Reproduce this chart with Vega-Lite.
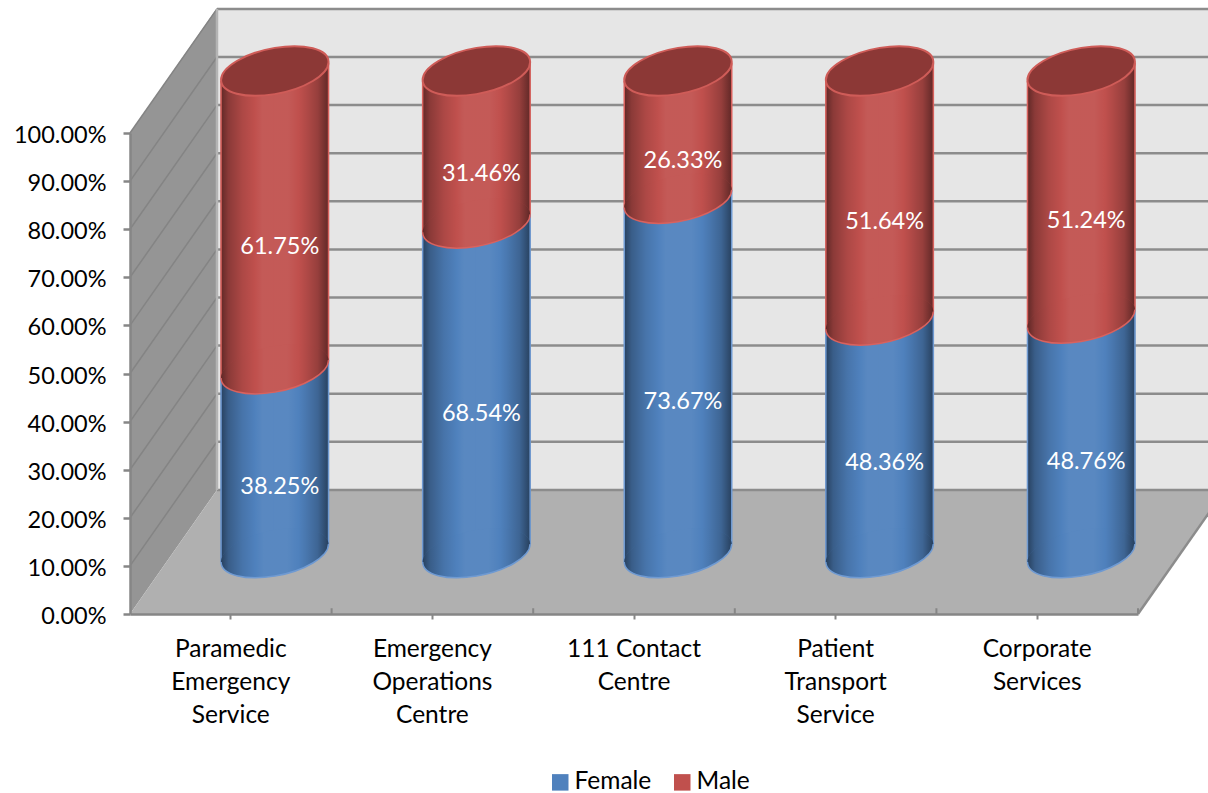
{
"$schema":"https://vega.github.io/schema/vega-lite/v6.json",
"width":1008,"height":481,
"autosize":{"type":"none"},
"padding":{"left":130,"top":133,"right":70,"bottom":179},
"background":"#ffffff",
"config":{"view":{"stroke":null},"font":"Lato"},
"datasets":{
"floor":[{"x":0,"y":0,"y2":0},{"x":0.4315,"y":0.258,"y2":0},{"x":5,"y":0.258,"y2":0},{"x":5.4315,"y":0.258,"y2":0.258}],
"side":[{"x":0,"y":1,"y2":0},{"x":0.4315,"y":1.26,"y2":0.258}],
"gridlines":[
{"a":0,"b":0.258},{"a":0.1,"b":0.358},{"a":0.2,"b":0.458},{"a":0.3,"b":0.558},{"a":0.4,"b":0.658},{"a":0.5,"b":0.758},{"a":0.6,"b":0.858},{"a":0.7,"b":0.958},{"a":0.8,"b":1.058},{"a":0.9,"b":1.158},{"a":1,"b":1.258}
],
"shares":[
{"category":"Paramedic Emergency Service","series":"Female","share":0.3825},
{"category":"Paramedic Emergency Service","series":"Male","share":0.6175},
{"category":"Emergency Operations Centre","series":"Female","share":0.6854},
{"category":"Emergency Operations Centre","series":"Male","share":0.3146},
{"category":"111 Contact Centre","series":"Female","share":0.7367},
{"category":"111 Contact Centre","series":"Male","share":0.2633},
{"category":"Patient Transport Service","series":"Female","share":0.4836},
{"category":"Patient Transport Service","series":"Male","share":0.5164},
{"category":"Corporate Services","series":"Female","share":0.4876},
{"category":"Corporate Services","series":"Male","share":0.5124}
]},
"resolve":{"scale":{"x":"independent"},"axis":{"x":"independent"}},
"layer":[
{"layer":[
{"data":{"values":[{"w":1}]},"mark":{"type":"rect","color":"#e6e6e6"},
"encoding":{"x":{"datum":0.4315,"type":"quantitative","scale":{"domain":[0,5],"nice":false,"zero":false},"axis":null},"x2":{"datum":5.4315},
"y":{"datum":0.258,"type":"quantitative","scale":{"domain":[0,1],"nice":false},"axis":{"values":[0,0.1,0.2,0.3,0.4,0.5,0.6,0.7,0.8,0.9,1],"format":".2%","title":null,"grid":false,"zindex":1,"domainColor":"#868686","domainWidth":2.5,"tickColor":"#868686","tickWidth":2.5,"tickSize":7,"labelFontSize":23.5,"labelFont":"Lato","labelColor":"#000000","labelPadding":17,"labelOffset":2.5}},"y2":{"datum":1.26}}},
{"data":{"name":"side"},"mark":{"type":"area","color":"#959595"},"encoding":{"x":{"field":"x","type":"quantitative","axis":null},"y":{"field":"y","type":"quantitative","stack":null},"y2":{"field":"y2"}}},
{"data":{"name":"floor"},"mark":{"type":"area","color":"#b0b0b0"},"encoding":{"x":{"field":"x","type":"quantitative","axis":null},"y":{"field":"y","type":"quantitative","stack":null},"y2":{"field":"y2"}}},
{"data":{"name":"gridlines"},"mark":{"type":"rule","color":"#8c8c8c","strokeWidth":2.5},"encoding":{"x":{"datum":0.4315,"type":"quantitative","axis":null},"x2":{"datum":5.4315},"y":{"field":"b","type":"quantitative"}}},
{"data":{"name":"gridlines"},"transform":[{"filter":"datum.a>0"}],"mark":{"type":"rule","color":"#848484","strokeWidth":1.5},"encoding":{"x":{"datum":0,"type":"quantitative","axis":null},"x2":{"datum":0.4315},"y":{"field":"a","type":"quantitative"},"y2":{"field":"b"}}},
{"data":{"values":[{"w":1}]},"mark":{"type":"rule","color":"#b4b4b4","strokeWidth":2.5},"encoding":{"x":{"datum":0.4315,"type":"quantitative","axis":null},"y":{"datum":0.258,"type":"quantitative"},"y2":{"datum":1.258}}},
{"data":{"values":[{"w":1}]},"mark":{"type":"rule","color":"#8c8c8c","strokeWidth":2.5},"encoding":{"x":{"datum":5,"type":"quantitative","axis":null},"x2":{"datum":5.4315},"y":{"datum":0,"type":"quantitative"},"y2":{"datum":0.258}}}
]},
{"data":{"name":"shares"},
"encoding":{"x":{"field":"category","type":"nominal","sort":null,"scale":{"paddingInner":0,"paddingOuter":0},
"axis":{"title":null,"labelAngle":0,"labelFontSize":24.5,"labelFont":"Lato","labelColor":"#000000","labelPadding":18,"labelLineHeight":33,"domainColor":"#868686","domainWidth":2.5,"tickColor":"#868686","tickWidth":2,"tickSize":5,"tickBand":"center","zindex":1,"labelExpr":"datum.label=='111 Contact Centre'?['111 Contact','Centre']:split(datum.label,' ')"}}},
"layer":[
{"mark":{"type":"bar","width":55,"xOffset":17.5,"yOffset":-52,"y2Offset":-52},
"encoding":{"y":{"field":"share","type":"quantitative","stack":"zero"},
"order":{"field":"series","sort":"ascending"},
"color":{"field":"series","type":"nominal","scale":{"domain":["Female","Male"],"range":["#4f81bd","#c0504d"]},
"legend":{"title":null,"orient":"none","legendX":418,"legendY":637,"direction":"horizontal","symbolType":"square","symbolSize":272,"symbolStrokeWidth":0,"labelFontSize":24.5,"labelFont":"Lato","labelColor":"#000000","labelOffset":2,"columnPadding":18}}}},
{"mark":{"type":"bar","width":55,"xOffset":70.5,"yOffset":-70,"y2Offset":-70},
"encoding":{"y":{"field":"share","type":"quantitative","stack":"zero"},"order":{"field":"series","sort":"ascending"},"color":{"field":"series","type":"nominal"}}},
{"mark":{"type":"bar","width":54,"xOffset":17,"yOffset":-52,"y2Offset":-52,"color":{"gradient":"linear","x1":0,"x2":1,"y1":0,"y2":0,"stops":[{"offset":0,"color":"rgba(0,0,0,0.5)"},{"offset":0.14,"color":"rgba(0,0,0,0.28)"},{"offset":0.4,"color":"rgba(0,0,0,0.1)"},{"offset":0.64,"color":"rgba(0,0,0,0)"},{"offset":1,"color":"rgba(0,0,0,0)"}]}},
"encoding":{"y":{"field":"share","type":"quantitative","stack":"zero"},"order":{"field":"series","sort":"ascending"},"detail":{"field":"series"}}},
{"mark":{"type":"bar","width":54,"xOffset":71,"yOffset":-70,"y2Offset":-70,"color":{"gradient":"linear","x1":0,"x2":1,"y1":0,"y2":0,"stops":[{"offset":0,"color":"rgba(0,0,0,0)"},{"offset":0.44,"color":"rgba(0,0,0,0)"},{"offset":0.58,"color":"rgba(0,0,0,0.08)"},{"offset":0.8,"color":"rgba(0,0,0,0.22)"},{"offset":1,"color":"rgba(0,0,0,0.5)"}]}},
"encoding":{"y":{"field":"share","type":"quantitative","stack":"zero"},"order":{"field":"series","sort":"ascending"},"detail":{"field":"series"}}},
{"mark":{"type":"bar","width":44,"xOffset":46,"yOffset":-61,"y2Offset":-61,"color":{"gradient":"linear","x1":0,"x2":1,"y1":0,"y2":0,"stops":[{"offset":0,"color":"rgba(255,255,255,0)"},{"offset":0.18,"color":"rgba(255,255,255,0.06)"},{"offset":0.75,"color":"rgba(255,255,255,0.06)"},{"offset":1,"color":"rgba(255,255,255,0)"}]}},
"encoding":{"y":{"field":"share","type":"quantitative","stack":"zero"},"order":{"field":"series","sort":"ascending"},"detail":{"field":"series"}}},
{"transform":[{"filter":"datum.series=='Female'"}],"layer":[
{"mark":{"type":"rule","xOffset":-9.75,"yOffset":-52,"y2Offset":-52,"color":"#6f9ad2","strokeWidth":1.5},"encoding":{"y":{"field":"share","type":"quantitative"},"y2":{"datum":0}}},
{"mark":{"type":"rule","xOffset":97.75,"yOffset":-70,"y2Offset":-70,"color":"#6f9ad2","strokeWidth":1.5},"encoding":{"y":{"field":"share","type":"quantitative"},"y2":{"datum":0}}},
{"mark":{"type":"rule","xOffset":-9.75,"yOffset":-52,"y2Offset":-52,"color":"#d9625e","strokeWidth":1.5},"encoding":{"y":{"field":"share","type":"quantitative"},"y2":{"datum":1}}},
{"mark":{"type":"rule","xOffset":97.75,"yOffset":-70,"y2Offset":-70,"color":"#d9625e","strokeWidth":1.5},"encoding":{"y":{"field":"share","type":"quantitative"},"y2":{"datum":1}}},
{"mark":{"type":"point","filled":true,"opacity":1,"size":11556,"xOffset":44,"yOffset":-61,"shape":"M1,-.167C1,.0705 .5523,.3378 0,.43C-.5523,.5222 -1,.4045 -1,.167C-1,-.0705 -.5523,-.3378 0,-.43C.5523,-.5222 1,-.4045 1,-.167Z"},
"encoding":{"y":{"datum":0,"type":"quantitative"},"color":{"datum":"Female","type":"nominal"}}},
{"mark":{"type":"point","filled":true,"opacity":1,"size":11556,"xOffset":44,"yOffset":-61,"color":{"gradient":"linear","x1":0,"x2":1,"y1":0,"y2":0,"stops":[{"offset":0,"color":"rgba(0,0,0,0.5)"},{"offset":0.07,"color":"rgba(0,0,0,0.28)"},{"offset":0.2,"color":"rgba(0,0,0,0.1)"},{"offset":0.32,"color":"rgba(0,0,0,0)"},{"offset":0.32,"color":"rgba(255,255,255,0)"},{"offset":0.4,"color":"rgba(255,255,255,0.06)"},{"offset":0.61,"color":"rgba(255,255,255,0.06)"},{"offset":0.72,"color":"rgba(255,255,255,0)"},{"offset":0.72,"color":"rgba(0,0,0,0)"},{"offset":0.79,"color":"rgba(0,0,0,0.08)"},{"offset":0.9,"color":"rgba(0,0,0,0.22)"},{"offset":1,"color":"rgba(0,0,0,0.5)"}]},"shape":"M1,-.167C1,.0705 .5523,.3378 0,.43C-.5523,.5222 -1,.4045 -1,.167C-1,-.0705 -.5523,-.3378 0,-.43C.5523,-.5222 1,-.4045 1,-.167Z"},
"encoding":{"y":{"datum":0,"type":"quantitative"}}},
{"mark":{"type":"point","filled":false,"opacity":1,"size":11556,"xOffset":44,"yOffset":-61,"color":"#6f9ad2","strokeWidth":1.5,"shape":"M1,-.167C1,.0705 .5523,.3378 0,.43C-.5523,.5222 -1,.4045 -1,.167"},
"encoding":{"y":{"datum":0,"type":"quantitative"}}},
{"mark":{"type":"point","filled":true,"opacity":1,"size":11556,"xOffset":44,"yOffset":-61,"shape":"M1,-.167C1,.0705 .5523,.3378 0,.43C-.5523,.5222 -1,.4045 -1,.167C-1,-.0705 -.5523,-.3378 0,-.43C.5523,-.5222 1,-.4045 1,-.167Z"},
"encoding":{"y":{"field":"share","type":"quantitative"},"color":{"datum":"Male","type":"nominal"}}},
{"mark":{"type":"point","filled":true,"opacity":1,"size":11556,"xOffset":44,"yOffset":-61,"color":{"gradient":"linear","x1":0,"x2":1,"y1":0,"y2":0,"stops":[{"offset":0,"color":"rgba(0,0,0,0.5)"},{"offset":0.07,"color":"rgba(0,0,0,0.28)"},{"offset":0.2,"color":"rgba(0,0,0,0.1)"},{"offset":0.32,"color":"rgba(0,0,0,0)"},{"offset":0.32,"color":"rgba(255,255,255,0)"},{"offset":0.4,"color":"rgba(255,255,255,0.06)"},{"offset":0.61,"color":"rgba(255,255,255,0.06)"},{"offset":0.72,"color":"rgba(255,255,255,0)"},{"offset":0.72,"color":"rgba(0,0,0,0)"},{"offset":0.79,"color":"rgba(0,0,0,0.08)"},{"offset":0.9,"color":"rgba(0,0,0,0.22)"},{"offset":1,"color":"rgba(0,0,0,0.5)"}]},"shape":"M1,-.167C1,.0705 .5523,.3378 0,.43C-.5523,.5222 -1,.4045 -1,.167C-1,-.0705 -.5523,-.3378 0,-.43C.5523,-.5222 1,-.4045 1,-.167Z"},
"encoding":{"y":{"field":"share","type":"quantitative"}}},
{"mark":{"type":"point","filled":false,"opacity":1,"size":11556,"xOffset":44,"yOffset":-61,"color":"#d9625e","strokeWidth":1.5,"shape":"M1,-.167C1,.0705 .5523,.3378 0,.43C-.5523,.5222 -1,.4045 -1,.167"},
"encoding":{"y":{"field":"share","type":"quantitative"}}},
{"mark":{"type":"point","filled":true,"opacity":1,"size":11556,"xOffset":44,"yOffset":-62,"fill":"#8c3836","stroke":"#cf5c58","strokeWidth":2,"shape":"M1,-.167C1,.0705 .5523,.3378 0,.43C-.5523,.5222 -1,.4045 -1,.167C-1,-.0705 -.5523,-.3378 0,-.43C.5523,-.5222 1,-.4045 1,-.167Z"},
"encoding":{"y":{"datum":1,"type":"quantitative"}}},
{"mark":{"type":"rule","xOffset":100.8,"color":"#868686","strokeWidth":2},
"encoding":{"y":{"datum":0,"type":"quantitative"},"y2":{"datum":0.012}}}
]},
{"mark":{"type":"text","color":"#ffffff","fontSize":23.5,"font":"Lato","xOffset":49,"yOffset":-35},
"encoding":{"y":{"field":"share","type":"quantitative","stack":"zero","bandPosition":0.5},"order":{"field":"series","sort":"ascending"},"detail":{"field":"series"},"text":{"field":"share","type":"quantitative","format":".2%"}}}
]}
]
}
